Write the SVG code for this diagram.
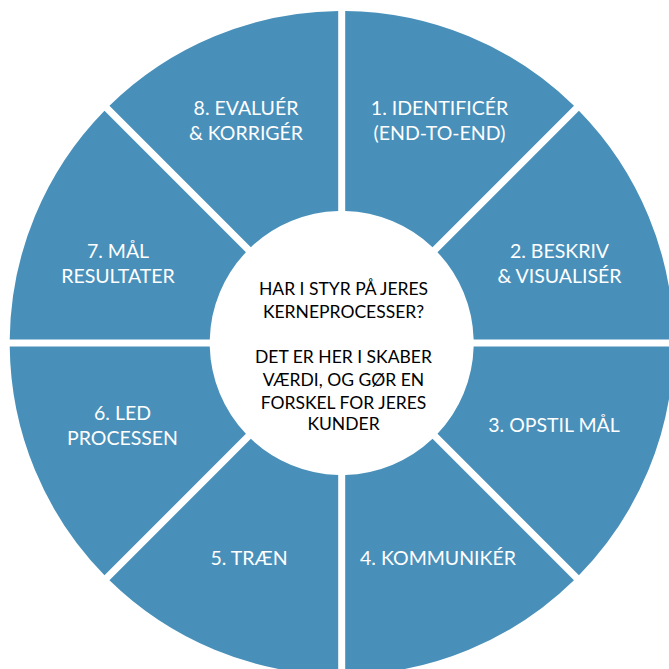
<svg xmlns="http://www.w3.org/2000/svg" width="669" height="669" viewBox="0 0 669 669">
<style>
.seg{fill:#4890BA}
.lbl{fill:#ffffff;font-family:Lato,"Open Sans","Liberation Sans",sans-serif;font-size:19.5px;text-anchor:middle}
.ctr{fill:#000000;font-family:Lato,"Open Sans","Liberation Sans",sans-serif;font-size:17.5px;text-anchor:middle}
</style>
<rect width="669" height="669" fill="#ffffff"/>
<g id="s1"><path class="seg" d="M345.2,11.02 A332,332 0 0 1 573.97,105.78 L432.53,247.22 A132,132 0 0 0 345.2,211.05 Z"/>
<text class="lbl" x="439.5" y="115">1. IDENTIFICÉR</text><text class="lbl" x="439.5" y="140">(END-TO-END)</text></g>
<g id="s2"><path class="seg" d="M578.92,110.73 A332,332 0 0 1 673.68,339.5 L473.65,339.5 A132,132 0 0 0 437.48,252.17 Z"/>
<text class="lbl" x="559.5" y="257.5">2. BESKRIV</text><text class="lbl" x="559.5" y="283">&amp; VISUALISÉR</text></g>
<g id="s3"><path class="seg" d="M673.68,346.5 A332,332 0 0 1 578.92,575.27 L437.48,433.83 A132,132 0 0 0 473.65,346.5 Z"/>
<text class="lbl" x="554" y="431.5">3. OPSTIL MÅL</text></g>
<g id="s4"><path class="seg" d="M573.97,580.22 A332,332 0 0 1 345.2,674.98 L345.2,474.95 A132,132 0 0 0 432.53,438.78 Z"/>
<text class="lbl" x="438" y="565">4. KOMMUNIKÉR</text></g>
<g id="s5"><path class="seg" d="M338.2,674.98 A332,332 0 0 1 109.43,580.22 L250.87,438.78 A132,132 0 0 0 338.2,474.95 Z"/>
<text class="lbl" x="249" y="565">5. TRÆN</text></g>
<g id="s6"><path class="seg" d="M104.48,575.27 A332,332 0 0 1 9.72,346.5 L209.75,346.5 A132,132 0 0 0 245.92,433.83 Z"/>
<text class="lbl" x="122.5" y="420">6. LED</text><text class="lbl" x="122.5" y="445">PROCESSEN</text></g>
<g id="s7"><path class="seg" d="M9.72,339.5 A332,332 0 0 1 104.48,110.73 L245.92,252.17 A132,132 0 0 0 209.75,339.5 Z"/>
<text class="lbl" x="118" y="257.5">7. MÅL</text><text class="lbl" x="118" y="283">RESULTATER</text></g>
<g id="s8"><path class="seg" d="M109.43,105.78 A332,332 0 0 1 338.2,11.02 L338.2,211.05 A132,132 0 0 0 250.87,247.22 Z"/>
<text class="lbl" x="246" y="115">8. EVALUÉR</text><text class="lbl" x="246" y="140">&amp; KORRIGÉR</text></g>
<g id="center">
<text class="ctr" x="343.5" y="294.5">HAR I STYR PÅ JERES</text>
<text class="ctr" x="343.5" y="317.5">KERNEPROCESSER?</text>
<text class="ctr" x="343.5" y="363">DET ER HER I SKABER</text>
<text class="ctr" x="343.5" y="386">VÆRDI, OG GØR EN</text>
<text class="ctr" x="343.5" y="408.5">FORSKEL FOR JERES</text>
<text class="ctr" x="343.5" y="430">KUNDER</text>
</g>
<g id="connectors"></g>
</svg>
